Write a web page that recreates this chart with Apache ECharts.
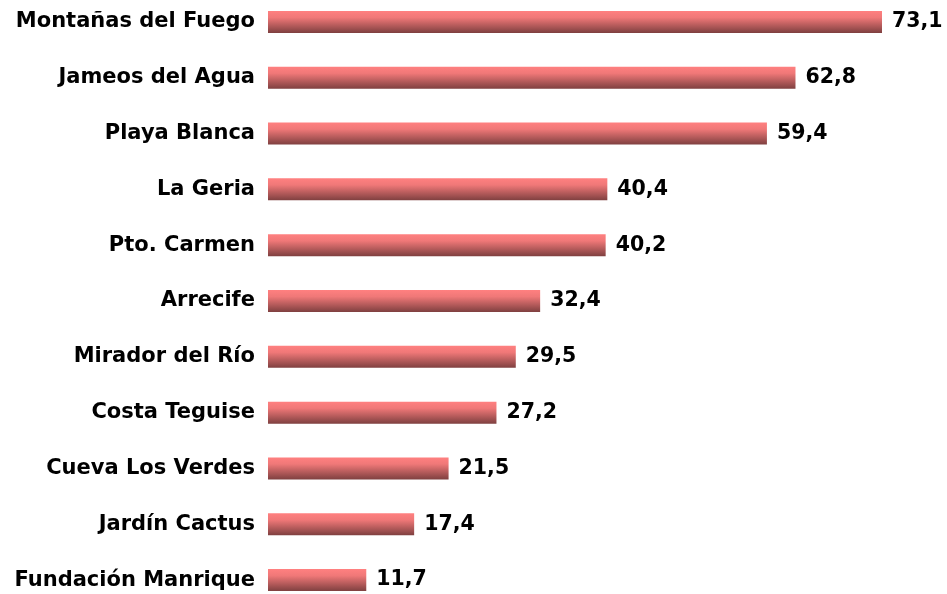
<!DOCTYPE html>
<html><head><meta charset="utf-8">
<script src="https://cdn.jsdelivr.net/npm/echarts@6/dist/echarts.min.js"></script>
<style>html,body{margin:0;padding:0;background:#fff}#c{width:947px;height:594px}</style>
</head><body><div id="c"></div>
<script>
const categories = ["Montañas del Fuego","Jameos del Agua","Playa Blanca","La Geria","Pto. Carmen","Arrecife","Mirador del Río","Costa Teguise","Cueva Los Verdes","Jardín Cactus","Fundación Manrique"];
const values = [73.1,62.8,59.4,40.4,40.2,32.4,29.5,27.2,21.5,17.4,11.7];

const chart = echarts.init(document.getElementById('c'));
chart.setOption({
  animation:false,
  grid:{left:268,top:-6,height:614,width:614,outerBoundsMode:'none',containLabel:false},
  xAxis:{type:'value',min:0,max:73.1,show:false},
  yAxis:{type:'category',data:categories,inverse:true,
    axisLine:{show:false},axisTick:{show:false},
    axisLabel:{margin:13,padding:[3,0,0,0],color:'#000',fontFamily:'DejaVu Sans',fontWeight:'bold',fontSize:21}},
  series:[{type:'bar',data:values,barWidth:22,
    itemStyle:{color:new echarts.graphic.LinearGradient(0,0,0,1,[{offset:0,color:'#ff8080'},{offset:0.3,color:'#f07878'},{offset:1,color:'#7f4040'}])},
    label:{show:true,position:'right',distance:10,padding:[3,0,0,0],color:'#000',fontFamily:'DejaVu Sans',fontWeight:'bold',fontSize:20.5,
      formatter:p=>p.value.toFixed(1).replace('.',',')}}]
});
</script></body></html>
